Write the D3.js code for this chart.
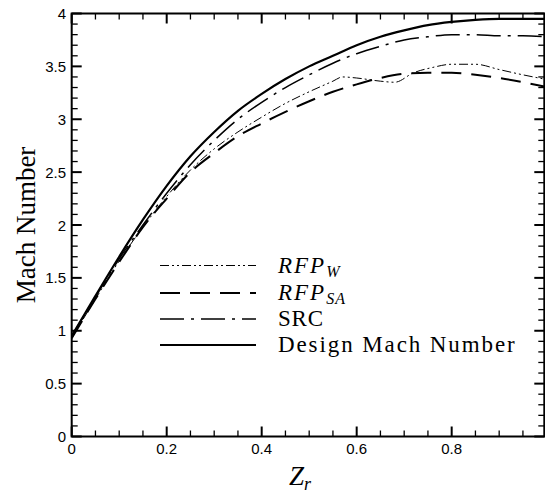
<!DOCTYPE html>
<html><head><meta charset="utf-8">
<script src="https://cdn.jsdelivr.net/npm/d3@7"></script>
<style>body{margin:0;background:#fff}svg{display:block}</style>
</head><body>
<script>
const zr = [0,0.05,0.1,0.15,0.2,0.25,0.3,0.35,0.4,0.45,0.5,0.55,0.6,0.65,0.7,0.75,0.8,0.85,0.9,0.95,0.995];
const designMach = [0.95,1.33,1.7,2.05,2.37,2.65,2.88,3.08,3.24,3.38,3.5,3.6,3.7,3.78,3.84,3.89,3.92,3.94,3.95,3.95,3.95];
const src = [0.95,1.32,1.68,2.0,2.3,2.57,2.8,3.0,3.16,3.3,3.42,3.53,3.62,3.69,3.75,3.78,3.8,3.8,3.79,3.79,3.78];
const rfpSA = [0.93,1.3,1.65,1.98,2.25,2.5,2.68,2.84,2.96,3.07,3.17,3.26,3.33,3.39,3.43,3.44,3.44,3.42,3.39,3.35,3.31];
const zrW = [0,0.05,0.1,0.15,0.2,0.25,0.3,0.35,0.4,0.45,0.5,0.55,0.57,0.6,0.65,0.68,0.72,0.76,0.8,0.85,0.9,0.95,0.995];
const rfpW = [0.93,1.3,1.66,1.98,2.27,2.52,2.72,2.88,3.02,3.15,3.26,3.36,3.40,3.39,3.36,3.35,3.44,3.49,3.52,3.52,3.47,3.42,3.38];
const xTicks = [0,0.2,0.4,0.6,0.8];
const yTicks = [0,0.5,1,1.5,2,2.5,3,3.5,4];
const legendLabels = ["RFP_W","RFP_SA","SRC","Design Mach Number"];

const W=545,H=495;
const svg=d3.select("body").append("svg").attr("width",W).attr("height",H);
const x=d3.scaleLinear().domain([0,0.995]).range([71.7,544.3]);
const y=d3.scaleLinear().domain([0,4]).range([436.5,13.5]);

const g=svg.append("g");
const xMinor=d3.range(0,1.0001,0.05);
const yMinor=d3.range(0,4.0001,0.1);
const isMajX=v=>Math.abs(v*5-Math.round(v*5))<1e-6;
const isMajY=v=>Math.abs(v*2-Math.round(v*2))<1e-6;
xMinor.filter(v=>v<=0.995).forEach(v=>{
  const L=isMajX(v)?10:6;
  g.append("line").attr("x1",x(v)).attr("x2",x(v)).attr("y1",y(0)).attr("y2",y(0)-L).attr("stroke","#000").attr("stroke-width",isMajX(v)?2:1.3);
  g.append("line").attr("x1",x(v)).attr("x2",x(v)).attr("y1",y(4)).attr("y2",y(4)+L).attr("stroke","#000").attr("stroke-width",isMajX(v)?2:1.3);
});
yMinor.forEach(v=>{
  const L=isMajY(v)?10:6;
  g.append("line").attr("x1",x(0)).attr("x2",x(0)+L).attr("y1",y(v)).attr("y2",y(v)).attr("stroke","#000").attr("stroke-width",isMajY(v)?2:1.3);
  g.append("line").attr("x1",x(0.995)).attr("x2",x(0.995)-L).attr("y1",y(v)).attr("y2",y(v)).attr("stroke","#000").attr("stroke-width",isMajY(v)?2:1.3);
});
g.append("rect").attr("x",x(0)).attr("y",y(4)).attr("width",x(0.995)-x(0)).attr("height",y(0)-y(4)).attr("fill","none").attr("stroke","#000").attr("stroke-width",2);

const tf="'Liberation Sans', Arial, sans-serif";
g.selectAll(".xt").data(xTicks).enter().append("text").attr("x",d=>x(d)).attr("y",454).attr("text-anchor","middle").attr("font-family",tf).attr("font-size",15).text(d=>d===0?"0":d.toFixed(1));
g.selectAll(".yt").data(yTicks).enter().append("text").attr("x",66).attr("y",d=>y(d)+5.5).attr("text-anchor","end").attr("font-family",tf).attr("font-size",15).text(d=>String(d));

const sf="'Liberation Serif','Times New Roman',serif";
svg.append("text").attr("transform","translate(35,225) rotate(-90)").attr("text-anchor","middle").attr("font-family",sf).attr("font-size",27).text("Mach Number");
const xl=svg.append("text").attr("x",300).attr("y",485).attr("text-anchor","middle").attr("font-family",sf).attr("font-size",27).attr("font-style","italic");
xl.append("tspan").text("Z");
xl.append("tspan").attr("font-size",18).attr("dy",5).text("r");

const line=d3.line().curve(d3.curveMonotoneX);
const styles=[
  {dash:"9,3,2,3,2,3",w:1},
  {dash:"20,10",w:2},
  {dash:"24,7,3,7",w:1.5},
  {dash:null,w:2.2}
];
svg.append("clipPath").attr("id","c").append("rect").attr("x",x(0)).attr("y",y(4)).attr("width",x(0.995)-x(0)).attr("height",y(0)-y(4));
const pg=svg.append("g").attr("clip-path","url(#c)");
const series=[
  zrW.map((v,i)=>[x(v),y(rfpW[i])]),
  zr.map((v,i)=>[x(v),y(rfpSA[i])]),
  zr.map((v,i)=>[x(v),y(src[i])]),
  zr.map((v,i)=>[x(v),y(designMach[i])])
];
series.forEach((s,i)=>{
  const p=pg.append("path").attr("d",line(s)).attr("fill","none").attr("stroke","#000").attr("stroke-width",styles[i].w);
  if(styles[i].dash)p.attr("stroke-dasharray",styles[i].dash);
});

const ly=[265.5,293,319,345];
legendLabels.forEach((lab,i)=>{
  const l=svg.append("line").attr("x1",160).attr("x2",256).attr("y1",ly[i]).attr("y2",ly[i]).attr("stroke","#000").attr("stroke-width",styles[i].w);
  if(styles[i].dash)l.attr("stroke-dasharray",styles[i].dash);
  const t=svg.append("text").attr("x",278).attr("y",ly[i]+7).attr("font-family",sf).attr("font-size",23);
  if(lab.startsWith("RFP_")){
    t.attr("font-style","italic");
    t.append("tspan").attr("letter-spacing",2).text("RFP");
    t.append("tspan").attr("font-size",16).attr("dy",4).attr("letter-spacing",1).text(lab.slice(4));
  } else {
    t.attr("letter-spacing",lab.length>5?1.9:0.8).text(lab);
  }
});
</script>
</body></html>
